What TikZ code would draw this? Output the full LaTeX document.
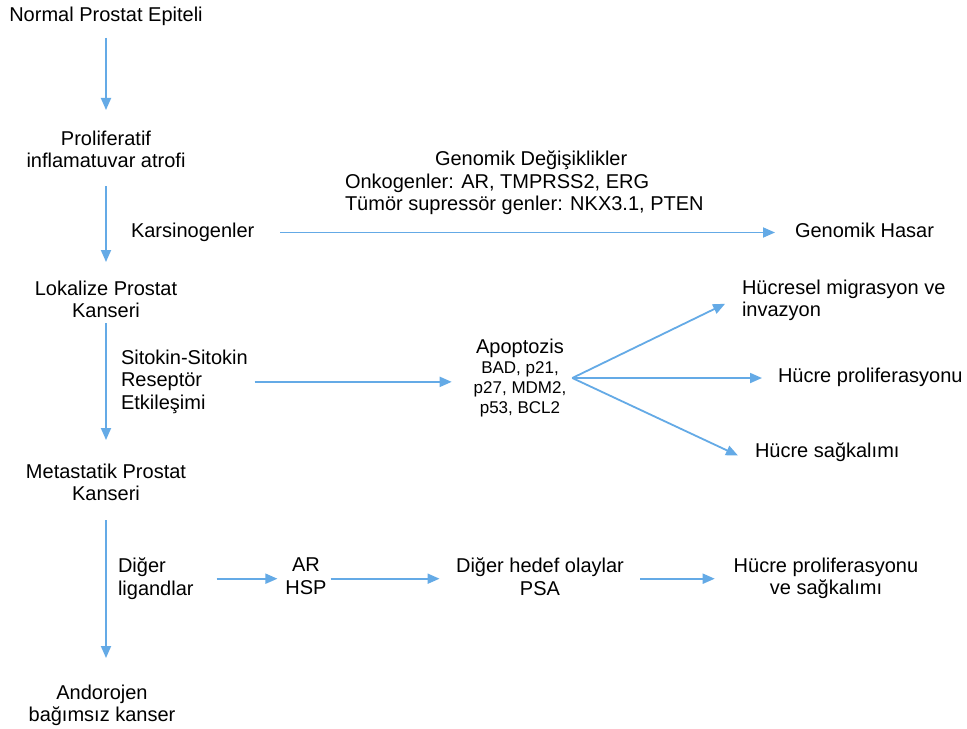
\documentclass[tikz,border=0pt]{standalone}
\usepackage{fontspec}
\setmainfont{Liberation Sans}
\usetikzlibrary{arrows.meta}
\definecolor{flow}{RGB}{100,170,230}
\newcommand\apsmall{\fontsize{17bp}{20bp}\selectfont}
\begin{document}
\begin{tikzpicture}[x=1bp,y=-1bp,
  lbl/.style={inner sep=0pt,outer sep=0pt,font=\fontsize{20bp}{22.5bp}\selectfont},
  one/.style={text height=14.5bp,text depth=4.5bp},
  ctr/.style={lbl,align=center,anchor=north},
  lft/.style={lbl,align=left,anchor=north west},
  arr/.style={draw=flow,line width=1.8bp,-{Triangle[length=12bp,width=10bp]}}]
\fill[white] (0,0) rectangle (967,729);
\useasboundingbox (0,0) rectangle (967,729);

% main progression column
\node[ctr,one] (norm) at (106,7) {Normal Prostat Epiteli};
\node[ctr] (prolif) at (106,131) {Proliferatif\\inflamatuvar atrofi};
\node[ctr] (lokal) at (106,281) {Lokalize Prostat\\Kanseri};
\node[ctr] (metast) at (106,464) {Metastatik Prostat\\Kanseri};
\node[ctr] (andro) at (102,685) {Andorojen\\bağımsız kanser};

\draw[arr,shorten <=12bp,shorten >=21bp] (norm.south) -- (norm.south |- prolif.north);
\draw[arr,shorten <=18bp,shorten >=19bp] (prolif.south) -- (prolif.south |- lokal.north);
\draw[arr,shorten <=5bp,shorten >=24bp] (lokal.south) -- (lokal.south |- metast.north);
\draw[arr,shorten <=19bp,shorten >=27bp] (metast.south) -- (metast.south |- andro.north);

% genomic damage branch
\node[lft] (genom) at (345,151) {\hspace*{90bp}Genomik Değişiklikler\\Onkogenler: AR, TMPRSS2, ERG\\Tümör supressör genler: NKX3.1, PTEN};
\node[lft,one] (karsin) at (131,223) {Karsinogenler};
\node[lft,one] (hasar) at (795,223) {Genomik Hasar};
\draw[arr,shorten <=26bp,shorten >=20bp] (karsin.east) -- (karsin.east -| hasar.west);

% cytokine signalling branch
\node[lft] (sitokin) at (121,350) {Sitokin-Sitokin\\Reseptör\\Etkileşimi};
\node[ctr] (apop) at (520,339) {Apoptozis\\[-2.5bp]{\apsmall BAD, p21,}\\[-2.5bp]{\apsmall p27, MDM2,}\\[-2.5bp]{\apsmall p53, BCL2}};
\node[lft] (migr) at (742,280) {Hücresel migrasyon ve\\invazyon};
\node[lft,one] (prolif2) at (778,368) {Hücre proliferasyonu};
\node[lft,one] (sagk) at (755,443) {Hücre sağkalımı};
\coordinate (fan) at ([xshift=6bp]apop.east);

\draw[arr,shorten <=7bp,shorten >=22bp] (sitokin.east) -- (sitokin.east -| apop.west);
\draw[arr,shorten >=18.8bp] (fan) -- ([yshift=5bp]migr.west);
\draw[arr,shorten >=16bp] (fan) -- (fan -| prolif2.west);
\draw[arr,shorten >=18.8bp] (fan) -- ([yshift=-11bp]sagk.west);

% androgen receptor branch
\node[lft] (diger) at (118,558) {Diğer\\ligandlar};
\node[ctr] (arhsp) at (306,558) {AR\\HSP};
\node[ctr] (hedef) at (540,558) {Diğer hedef olaylar\\PSA};
\node[ctr] (son) at (826,558) {Hücre proliferasyonu\\ve sağkalımı};

\draw[arr,shorten <=23bp,shorten >=8bp] (diger.east) -- (diger.east -| arhsp.west);
\draw[arr,shorten <=4bp,shorten >=16.5bp] (diger.east -| arhsp.east) -- (diger.east -| hedef.west);
\draw[arr,shorten <=16.5bp,shorten >=19bp] (diger.east -| hedef.east) -- (diger.east -| son.west);
\end{tikzpicture}
\end{document}
